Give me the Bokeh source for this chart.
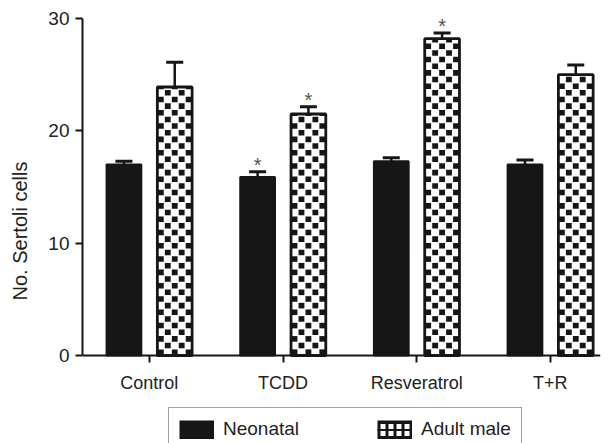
from bokeh.plotting import figure
from bokeh.models import (ColumnDataSource, Range1d, FixedTicker, Whisker, TeeHead,
                          Legend, LegendItem)
from bokeh.transform import dodge
from bokeh.core.properties import value
from bokeh.embed import file_html
from bokeh.resources import INLINE

# ---- data ----
categories = ["Control", "TCDD", "Resveratrol", "T+R"]
neonatal = [17.0, 15.9, 17.3, 17.0]
neonatal_err = [0.3, 0.45, 0.3, 0.4]
adult = [23.9, 21.5, 28.2, 25.0]
adult_err = [2.2, 0.65, 0.5, 0.85]
neonatal_sig = ["", "*", "", ""]
adult_sig = ["", "*", "*", ""]
y_ticks = [0, 10, 20, 30]

FONT = "Liberation Sans"
INK = "#161616"
NAN = float("nan")

# ---- layout constants ----
X_END = 3.875
Y_END = 30
PX_PER_Y = 337 / 30
FIG_H = 443
TOP = 18
Y_START = -(FIG_H - TOP - Y_END * PX_PER_Y) / PX_PER_Y   # room below 0 for labels + legend
OFF = 0.19          # dodge of each bar from the group centre
BW = 0.26           # bar width (data units)
CELL_PX = 6.65      # checker cell size in pixels
N_COLS = 5

xs = [i + 0.5 for i in range(len(categories))]
src_n = ColumnDataSource(dict(x=xs, top=neonatal,
                              upper=[v + e for v, e in zip(neonatal, neonatal_err)], sig=neonatal_sig))
src_a = ColumnDataSource(dict(x=xs, top=adult,
                              upper=[v + e for v, e in zip(adult, adult_err)], sig=adult_sig))

# checker cells for the adult bars, derived from the bar values
cell_h = CELL_PX / PX_PER_Y
col_w = BW / N_COLS
cx, cy, cw, ch = [], [], [], []
for xc, top in zip(xs, adult):
    left = xc + OFF - BW / 2
    k = 0
    while k * cell_h < top:
        y0 = k * cell_h
        y1 = min((k + 1) * cell_h, top)
        for j in range(N_COLS):
            if (j + k) % 2 == 0:
                cx.append(left + (j + 0.5) * col_w)
                cy.append((y0 + y1) / 2)
                cw.append(col_w * 0.84)
                ch.append((y1 - y0) * 0.84)
        k += 1
src_cells = ColumnDataSource(dict(x=cx, y=cy, w=cw, h=ch))

p = figure(width=602, height=FIG_H, output_backend="svg", toolbar_location=None,
           x_range=Range1d(0, X_END), y_range=Range1d(Y_START, Y_END),
           min_border_left=82, min_border_right=2, min_border_top=TOP, min_border_bottom=0)
p.grid.visible = False
p.outline_line_color = None
p.background_fill_color = "white"
p.border_fill_color = "white"

p.vbar(x=dodge("x", -OFF, range=p.x_range), top="top", bottom=0, width=BW, source=src_n,
       fill_color=INK, line_color=INK, line_width=2)
p.vbar(x=dodge("x", OFF, range=p.x_range), top="top", bottom=0, width=BW, source=src_a,
       fill_color="white", line_color=None)
p.rect(x="x", y="y", width="w", height="h", source=src_cells, fill_color=INK, line_color=None)
p.vbar(x=dodge("x", OFF, range=p.x_range), top="top", bottom=0, width=BW, source=src_a,
       fill_color=None, line_color=INK, line_width=2.8)

for src, off in ((src_n, -OFF), (src_a, OFF)):
    w = Whisker(source=src, base=dodge("x", off, range=p.x_range), lower="top", upper="upper",
                line_color=INK, line_width=2.5, lower_head=None,
                upper_head=TeeHead(size=17, line_color=INK, line_width=3))
    p.add_layout(w)
    p.text(x=dodge("x", off, range=p.x_range), y="upper", text="sig", source=src,
           text_font=value(FONT), text_font_size="20px", text_color="#555",
           text_align="center", text_baseline="middle", y_offset=-7)

# legend swatches (legend-only renderers; NaN data so nothing is drawn in the plot)
leg_black = p.line(x=[NAN, NAN], y=[NAN, NAN], line_color=INK, line_width=19)
leg_holes = p.line(x=[NAN, NAN], y=[NAN, NAN], line_color="white", line_width=12,
                   line_dash="5 3", line_dash_offset=5)
leg_bar = p.line(x=[NAN, NAN], y=[NAN, NAN], line_color=INK, line_width=2)

# axes
for ax in (p.xaxis, p.yaxis):
    ax.axis_line_width = 2
    ax.axis_line_color = INK
    ax.major_tick_line_width = 2
    ax.major_tick_line_color = INK
    ax.major_tick_out = 7
    ax.major_tick_in = 0
    ax.minor_tick_line_color = None
    ax.major_label_text_font = FONT
    ax.major_label_text_color = "#222"

p.yaxis.ticker = FixedTicker(ticks=y_ticks)
p.yaxis.bounds = (0, Y_END)
p.yaxis.major_label_text_font_size = "19px"
p.yaxis.major_label_standoff = 6
p.yaxis.axis_label = "No. Sertoli cells"
p.yaxis.axis_label_text_font = FONT
p.yaxis.axis_label_text_font_size = "20px"
p.yaxis.axis_label_text_font_style = "normal"
p.yaxis.axis_label_text_color = "#222"
p.yaxis.axis_label_standoff = 14

p.xaxis.fixed_location = 0
p.xaxis.ticker = FixedTicker(ticks=xs)
p.xaxis.major_label_overrides = {x: c for x, c in zip(xs, categories)}
p.xaxis.major_label_text_font_size = "18px"
p.xaxis.major_label_standoff = 10

legend = Legend(items=[LegendItem(label="Neonatal", renderers=[leg_black]),
                       LegendItem(label="Adult male", renderers=[leg_black, leg_holes, leg_bar])],
                orientation="horizontal", location=(86, -8),
                glyph_width=35, glyph_height=19, label_standoff=9, spacing=78,
                padding=10, margin=0,
                label_text_font=FONT, label_text_font_size="19px", label_text_color="#222",
                border_line_color="#444", border_line_width=1,
                background_fill_color="white", background_fill_alpha=1)
p.add_layout(legend)

open("out.html", "w").write(file_html(p, INLINE))
